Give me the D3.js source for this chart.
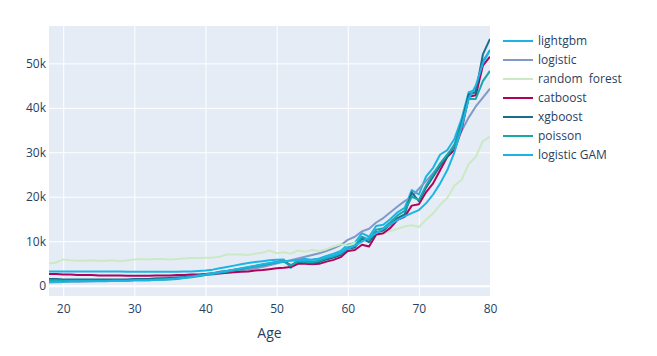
<!DOCTYPE html>
<html>
<head>
<meta charset="utf-8">
<script src="https://cdn.jsdelivr.net/npm/d3@7"></script>
<style>
  html, body { margin: 0; padding: 0; background: #fff; }
  svg text { font-family: "Open Sans", "Noto Sans", sans-serif; fill: #2a3f5f; }
</style>
</head>
<body>
<svg id="chart" width="657" height="356"></svg>
<script>
const ages = [18,19,20,21,22,23,24,25,26,27,28,29,30,31,32,33,34,35,36,37,38,39,40,41,42,43,44,45,46,47,48,49,50,51,52,53,54,55,56,57,58,59,60,61,62,63,64,65,66,67,68,69,70,71,72,73,74,75,76,77,78,79,80];

const lightgbm = [3200,3200,3200,3200,3200,3200,3200,3200,3200,3200,
  3200,3100,3100,3100,3100,3100,3100,3100,3100,3200,
  3200,3300,3400,3600,3900,4200,4500,4800,5100,5300,
  5500,5700,5800,5900,4000,6000,6000,5800,6100,6700,
  7200,7800,9200,9600,11800,11000,13400,13700,15000,16500,
  17500,21500,20500,24500,26500,29500,30500,33000,37500,43500,
  44000,50500,53000];

const logistic = [700,750,800,850,900,950,1000,1050,1100,1150,
  1200,1300,1350,1400,1500,1600,1700,1800,1900,2000,
  2100,2200,2400,2500,2700,2900,3100,3300,3600,3900,
  4200,4600,5000,5400,5700,6100,6500,6900,7300,7800,
  8400,9100,10300,11000,12200,12800,14200,15200,16500,17800,
  19000,20000,21800,23500,25300,27300,29300,31800,34800,37800,
  40300,42300,44300];

const randomForest = [5000,5200,5900,5700,5600,5600,5700,5600,5600,5700,
  5500,5700,5900,6000,5900,6000,6000,5900,6000,6100,
  6200,6200,6300,6300,6500,7000,7000,7000,6900,7200,
  7400,7900,7300,7500,7200,7900,7600,8000,7800,8200,
  8800,9300,9000,9600,10200,10700,11200,11800,12300,12800,
  13300,13600,13200,14800,16200,18200,19700,22500,23800,27300,
  29000,32500,33500];

const catboost = [2600,2600,2500,2500,2400,2400,2400,2300,2300,2300,
  2300,2200,2200,2200,2200,2300,2300,2300,2400,2400,
  2500,2500,2600,2700,2800,2900,3000,3100,3200,3400,
  3500,3700,3900,4000,4200,4900,4900,4800,4900,5400,
  5800,6400,7800,8000,9200,8800,11500,11800,13000,14800,
  15500,18000,18300,21000,23000,26000,29000,30500,35000,42500,
  42800,49500,51500];

const xgboost = [1500,1500,1400,1400,1400,1400,1400,1400,1400,1400,
  1400,1400,1500,1500,1500,1600,1600,1700,1800,1900,
  2100,2300,2600,2800,3100,3300,3600,3800,4100,4400,
  4700,5000,5300,5500,4600,5300,5200,5000,5300,5900,
  6300,6900,8300,8600,10600,9800,12000,12400,13800,15200,
  16000,21000,19000,22000,24500,27000,29000,31500,36500,43000,
  43500,52000,55500];

const poisson = [1200,1200,1100,1100,1100,1100,1100,1100,1100,1100,
  1100,1100,1200,1200,1200,1300,1300,1400,1500,1700,
  1900,2100,2400,2600,2900,3100,3400,3700,4000,4300,
  4600,4900,5200,5400,4500,5500,5400,5300,5600,6200,
  6600,7200,8600,9000,11000,10300,12600,12900,14300,15800,
  16800,20000,19300,22500,25000,27500,29500,31500,36000,42000,
  42000,46000,48300];

const logisticGAM = [900,900,900,1000,1000,1000,1000,1000,1000,1100,
  1100,1100,1200,1200,1200,1300,1400,1500,1600,1800,
  2000,2300,2500,2800,3000,3300,3600,3900,4200,4500,
  4800,5100,5300,5500,5600,5700,5700,5800,6000,6400,
  6800,7400,8300,9000,9900,10800,11800,12800,13800,14800,
  15600,16300,17000,18500,20500,23000,26000,30000,35500,42000,
  45000,50000,53000];

const seriesNames = ["lightgbm","logistic","random  forest","catboost","xgboost","poisson","logistic GAM"];
const seriesValues = [lightgbm, logistic, randomForest, catboost, xgboost, poisson, logisticGAM];
const seriesColors = ["#1cb4e4","#8199c9","#cbeac4","#b2005c","#1c6d8c","#17a8aa","#1cb4e4"];

const xTicks = [20,30,40,50,60,70,80];
const yTicks = [0,10000,20000,30000,40000,50000];
const yTickLabels = ["0","10k","20k","30k","40k","50k"];
const xTitle = "Age";

const plot = {left: 49, right: 490, top: 26, bottom: 296};
const svg = d3.select("#chart");

const x = d3.scaleLinear().domain([18, 80]).range([plot.left, plot.right]);
const y = d3.scaleLinear().domain([-2330, 58400]).range([plot.bottom, plot.top]);

svg.append("rect")
  .attr("x", plot.left).attr("y", plot.top)
  .attr("width", plot.right - plot.left).attr("height", plot.bottom - plot.top)
  .attr("fill", "#E5ECF6");

svg.append("defs").append("clipPath").attr("id", "clip")
  .append("rect")
  .attr("x", plot.left).attr("y", plot.top)
  .attr("width", plot.right - plot.left).attr("height", plot.bottom - plot.top);

// grid
const gx = svg.append("g").attr("transform", `translate(0,${plot.bottom})`)
  .call(d3.axisBottom(x).tickValues(xTicks).tickSize(-(plot.bottom - plot.top)).tickSizeOuter(0).tickPadding(8));
gx.select(".domain").remove();
gx.selectAll(".tick line").attr("stroke", "#fff").attr("stroke-width", 1);
gx.selectAll(".tick text").attr("font-size", 12).attr("fill", "#2a3f5f").attr("dy", "0.71em").attr("y", 8);

const gy = svg.append("g").attr("transform", `translate(${plot.left},0)`)
  .call(d3.axisLeft(y).tickValues(yTicks).tickFormat((d, i) => yTickLabels[i])
    .tickSize(-(plot.right - plot.left)).tickSizeOuter(0).tickPadding(3));
gy.select(".domain").remove();
gy.selectAll(".tick line").attr("stroke", "#fff").attr("stroke-width", d => d === 0 ? 2 : 1);
gy.selectAll(".tick text").attr("font-size", 12).attr("fill", "#2a3f5f");

// lines
const line = d3.line().x((d, i) => x(ages[i])).y(d => y(d));
const linesG = svg.append("g").attr("clip-path", "url(#clip)");
seriesValues.forEach((vals, k) => {
  linesG.append("path")
    .datum(vals)
    .attr("d", line)
    .attr("fill", "none")
    .attr("stroke", seriesColors[k])
    .attr("stroke-width", 2)
    .attr("stroke-linejoin", "round");
});

// axis title
svg.append("text")
  .attr("x", (plot.left + plot.right) / 2)
  .attr("y", 338)
  .attr("text-anchor", "middle")
  .attr("font-size", 14)
  .text(xTitle);

// legend
const leg = svg.append("g");
seriesNames.forEach((name, k) => {
  const cy = 41 + k * 19;
  leg.append("line")
    .attr("x1", 503).attr("x2", 533)
    .attr("y1", cy).attr("y2", cy)
    .attr("stroke", seriesColors[k]).attr("stroke-width", 2);
  leg.append("text")
    .attr("x", 538).attr("y", cy)
    .attr("dy", "0.35em")
    .attr("font-size", 12)
    .style("white-space", "pre")
    .text(name);
});
</script>
</body>
</html>
